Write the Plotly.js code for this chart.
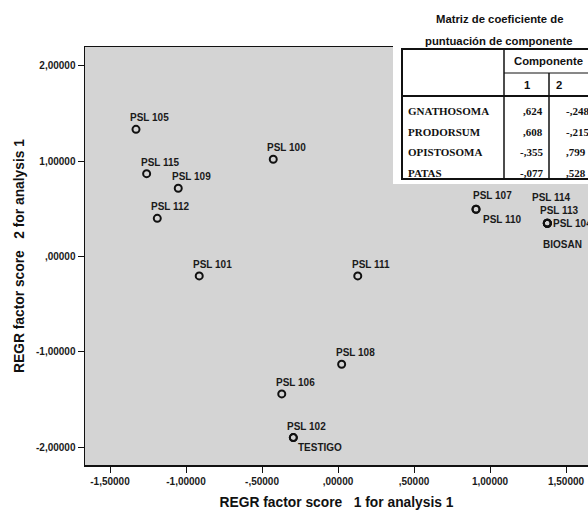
<!DOCTYPE html>
<html>
<head>
<meta charset="utf-8">
<script src="https://cdn.plot.ly/plotly-3.0.1.min.js"></script>
<style>
  html, body { margin: 0; padding: 0; background: #ffffff; overflow: hidden; }
  #chart { width: 588px; height: 512px; }
</style>
</head>
<body>
<div id="chart"></div>
<script>
// ---- data ----
const pointLabels = ['PSL 105','PSL 100','PSL 115','PSL 109','PSL 112','PSL 101','PSL 111','PSL 108','PSL 106','PSL 102','TESTIGO','PSL 107','PSL 110','PSL 114','PSL 113','PSL 104','BIOSAN'];
const factor1 = [-1.329,-0.426,-1.259,-1.051,-1.189,-0.913,0.130,0.024,-0.370,-0.294,-0.294,0.908,0.908,1.377,1.377,1.377,1.377];
const factor2 = [1.333,1.019,0.868,0.715,0.400,-0.204,-0.204,-1.130,-1.441,-1.899,-1.899,0.495,0.495,0.348,0.348,0.348,0.348];

const xTickVals = [-1.5,-1.0,-0.5,0,0.5,1.0,1.5];
const xTickText = ['-1,50000','-1,00000','-,50000',',00000',',50000','1,00000','1,50000'];
const yTickVals = [2,1,0,-1,-2];
const yTickText = ['2,00000','1,00000',',00000','-1,00000','-2,00000'];

const tableTitle = ['Matriz de coeficiente de','puntuación de componente'];
const tableHeader = 'Componente';
const componentNames = ['1','2'];
const tableRows = ['GNATHOSOMA','PRODORSUM','OPISTOSOMA','PATAS'];
const component1 = [0.624,0.608,-0.355,-0.077];
const component2 = [-0.248,-0.215,0.799,0.528];

// ---- styles ----
const labelShift = {
  'TESTIGO': [3,-10], 'PSL 107': [-5,13.5], 'PSL 110': [5,-10],
  'PSL 114': [-17,26], 'PSL 113': [-9,12.5], 'PSL 104': [4,0], 'BIOSAN': [-6,-21]
};
const defaultShift = [-8,11.5];

const W = 588, H = 512, ML = 85, MR = 0, MT = 47, MB = 47;
const PW = W - ML - MR, PH = H - MT - MB;
const px = v => (v - ML) / PW;           // pixel x -> paper
const py = v => (H - MB - v) / PH;       // pixel y -> paper

function fmt3(v) {
  return v.toFixed(3).replace(/^(-?)0\./, '$1,').replace('.', ',');
}

const trace = {
  type: 'scatter', mode: 'markers',
  x: factor1, y: factor2, text: pointLabels,
  marker: { symbol: 'circle-open', size: 7, color: '#111', line: { width: 2, color: '#111' } },
  hoverinfo: 'text', showlegend: false, cliponaxis: true
};

const labelFont = { family: 'Liberation Sans, Arial, sans-serif', size: 10, color: '#1a1a1a', weight: 'bold' };
const annotations = [];
pointLabels.forEach((lab, i) => {
  const s = labelShift[lab] || defaultShift;
  annotations.push({
    x: factor1[i], y: factor2[i], xref: 'x', yref: 'y', text: lab, showarrow: false,
    xanchor: 'left', yanchor: 'middle', xshift: s[0], yshift: s[1], font: labelFont
  });
});

// table geometry (pixels)
const tL = 402, tC1 = 504, tC2 = 549, tR = 600, tTop = 49, tHdr1 = 73, tHdr2 = 96, tBot = 179;
const rowY0 = 111, rowStep = 20.7;

const shapes = [
  { type: 'rect', xref: 'paper', yref: 'paper', x0: px(393), x1: px(610), y0: py(-5), y1: py(184),
    fillcolor: '#ffffff', line: { width: 0 }, layer: 'above' },
  { type: 'rect', xref: 'paper', yref: 'paper', x0: px(tL), x1: px(tR), y0: py(tBot), y1: py(tTop),
    fillcolor: 'rgba(0,0,0,0)', line: { width: 2, color: '#111' }, layer: 'above' },
  { type: 'line', xref: 'paper', yref: 'paper', x0: px(tC1), x1: px(tC1), y0: py(tTop), y1: py(tBot),
    line: { width: 1.5, color: '#111' }, layer: 'above' },
  { type: 'line', xref: 'paper', yref: 'paper', x0: px(tC2), x1: px(tC2), y0: py(tHdr1), y1: py(tBot),
    line: { width: 1.5, color: '#111' }, layer: 'above' },
  { type: 'line', xref: 'paper', yref: 'paper', x0: px(tC1), x1: px(tR), y0: py(tHdr1), y1: py(tHdr1),
    line: { width: 1, color: '#111' }, layer: 'above' },
  { type: 'line', xref: 'paper', yref: 'paper', x0: px(tL), x1: px(tR), y0: py(tHdr2), y1: py(tHdr2),
    line: { width: 2, color: '#111' }, layer: 'above' }
];

const sansBold = { family: 'Liberation Sans, Arial, sans-serif', size: 11.3, color: '#111', weight: 'bold' };
const serif = { family: 'Liberation Serif, Times New Roman, serif', size: 11, color: '#111', weight: 'bold' };

tableTitle.forEach((t, i) => {
  annotations.push({ xref: 'paper', yref: 'paper', x: px(499), y: py(19 + i * 22), text: t, showarrow: false,
    xanchor: 'center', yanchor: 'middle', font: sansBold });
});
annotations.push({ xref: 'paper', yref: 'paper', x: px(548), y: py(61), text: tableHeader, showarrow: false,
  xanchor: 'center', yanchor: 'middle', font: sansBold });
annotations.push({ xref: 'paper', yref: 'paper', x: px(527), y: py(85), text: componentNames[0], showarrow: false,
  xanchor: 'center', yanchor: 'middle', font: sansBold });
annotations.push({ xref: 'paper', yref: 'paper', x: px(559), y: py(85), text: componentNames[1], showarrow: false,
  xanchor: 'center', yanchor: 'middle', font: sansBold });
tableRows.forEach((r, i) => {
  const yy = py(rowY0 + i * rowStep);
  annotations.push({ xref: 'paper', yref: 'paper', x: px(406), y: yy, text: r, showarrow: false,
    xanchor: 'left', yanchor: 'middle', font: serif });
  annotations.push({ xref: 'paper', yref: 'paper', x: px(545), y: yy, text: fmt3(component1[i]), showarrow: false,
    xanchor: 'right', yanchor: 'middle', font: serif });
  annotations.push({ xref: 'paper', yref: 'paper', x: px(564), y: yy, text: fmt3(component2[i]), showarrow: false,
    xanchor: 'left', yanchor: 'middle', font: serif });
});

const tickFont = { family: 'Liberation Sans, Arial, sans-serif', size: 10, color: '#1a1a1a', weight: 'bold' };
const titleFont = { family: 'Liberation Sans, Arial, sans-serif', size: 13.8, color: '#111', weight: 'bold' };

const layout = {
  width: W, height: H,
  margin: { l: ML, r: MR, t: MT, b: MB, pad: 0 },
  paper_bgcolor: '#ffffff', plot_bgcolor: '#d4d4d4',
  showlegend: false,
  xaxis: {
    range: [-1.6645, 1.6447], tickmode: 'array', tickvals: xTickVals, ticktext: xTickText,
    ticks: 'outside', ticklen: 6, tickwidth: 1, tickcolor: '#111', tickfont: tickFont,
    showgrid: false, zeroline: false, showline: true, linewidth: 1.5, linecolor: '#111', mirror: true,
    title: { text: 'REGR factor score   1 for analysis 1', font: titleFont, standoff: 12 },
    automargin: false, fixedrange: true
  },
  yaxis: {
    range: [-2.186, 2.196], tickmode: 'array', tickvals: yTickVals, ticktext: yTickText,
    ticks: 'outside', ticklen: 6, tickwidth: 1, tickcolor: '#111', tickfont: tickFont,
    showgrid: false, zeroline: false, showline: true, linewidth: 1.5, linecolor: '#111', mirror: false,
    title: { text: 'REGR factor score   2 for analysis 1', font: titleFont, standoff: 8 },
    automargin: false, fixedrange: true
  },
  shapes: shapes,
  annotations: annotations
};

Plotly.newPlot('chart', [trace], layout, { displayModeBar: false, staticPlot: true });
</script>
</body>
</html>
